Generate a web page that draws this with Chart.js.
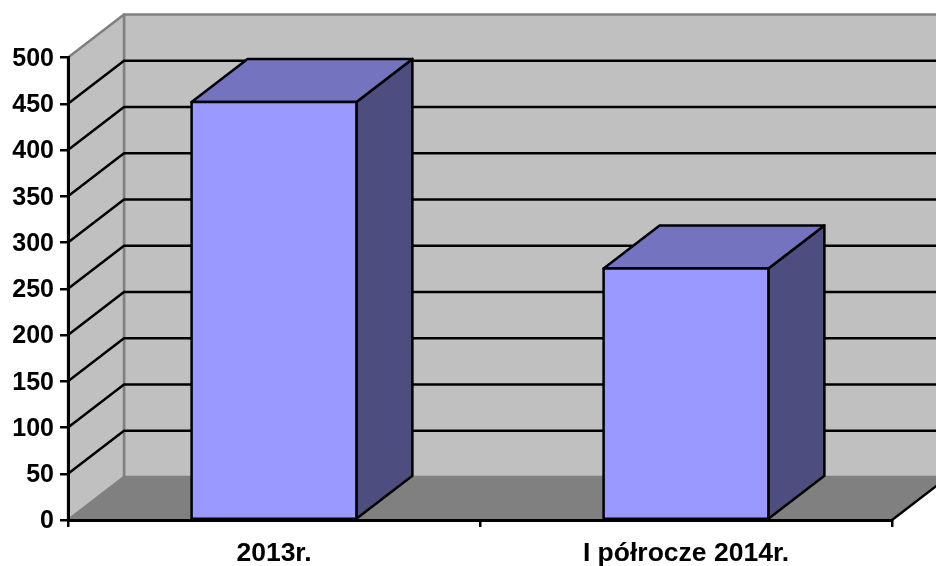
<!DOCTYPE html>
<html lang="pl">
<head>
<meta charset="utf-8">
<title>Wykres</title>
<style>
  html, body { margin: 0; padding: 0; background: #fff; }
  canvas { display: block; }
</style>
<script src="https://cdn.jsdelivr.net/npm/chart.js@4.5.0/dist/chart.umd.js"></script>
</head>
<body>
<canvas id="chart" width="936" height="566"></canvas>
<script>
const kategorie = ['2013r.', 'I półrocze 2014r.'];
const wartosci = [452, 272];

// przesuniecie tylnej sciany (efekt 3D)
const glebX = 56;
const glebY = -43;

const wielokat = (ctx, punkty, wypelnienie, obrys, grubosc) => {
  ctx.beginPath();
  punkty.forEach(([x, y], i) => (i ? ctx.lineTo(x, y) : ctx.moveTo(x, y)));
  ctx.closePath();
  if (wypelnienie) {
    ctx.fillStyle = wypelnienie;
    ctx.fill();
  }
  if (obrys) {
    ctx.strokeStyle = obrys;
    ctx.lineWidth = grubosc;
    ctx.lineJoin = 'round';
    ctx.stroke();
  }
};

const sciany3d = {
  id: 'sciany3d',
  beforeDraw(chart) {
    const { ctx, chartArea: a, scales: { y } } = chart;
    const x0 = a.left, x1 = a.right, gora = a.top, dol = a.bottom;
    ctx.save();

    // tylna sciana, lewa sciana, podloga
    wielokat(ctx, [[x0 + glebX, gora + glebY], [x1 + glebX, gora + glebY], [x1 + glebX, dol + glebY], [x0 + glebX, dol + glebY]], '#c0c0c0', '#808080', 2.5);
    wielokat(ctx, [[x0, gora], [x0 + glebX, gora + glebY], [x0 + glebX, dol + glebY], [x0, dol]], '#c0c0c0', '#808080', 2.5);
    wielokat(ctx, [[x0, dol], [x1, dol], [x1 + glebX, dol + glebY], [x0 + glebX, dol + glebY]], '#808080', null);

    // linie siatki na scianach
    ctx.strokeStyle = '#000';
    ctx.lineWidth = 2.5;
    y.ticks.forEach(t => {
      if (t.value === 0 || t.value === y.max) return;
      const py = y.getPixelForValue(t.value);
      ctx.beginPath();
      ctx.moveTo(x0, py);
      ctx.lineTo(x0 + glebX, py + glebY);
      ctx.lineTo(x1 + glebX, py + glebY);
      ctx.stroke();
    });

    // przednia krawedz podlogi
    ctx.beginPath();
    ctx.moveTo(x1, dol);
    ctx.lineTo(x1 + glebX, dol + glebY);
    ctx.stroke();
    ctx.restore();
  },
  beforeDatasetsDraw(chart) {
    const { ctx } = chart;
    ctx.save();
    chart.getDatasetMeta(0).data.forEach(el => {
      const l = el.x - el.width / 2;
      const r = el.x + el.width / 2;
      const t = el.y;
      const b = el.base;
      wielokat(ctx, [[r, t], [r + glebX, t + glebY], [r + glebX, b + glebY], [r, b]], '#4d4d80', '#000', 2.5);
      wielokat(ctx, [[l, t], [l + glebX, t + glebY], [r + glebX, t + glebY], [r, t]], '#7373bf', '#000', 2.5);
    });
    ctx.restore();
  },
  afterDatasetsDraw(chart) {
    // pelny obrys przedniej sciany slupka
    const { ctx } = chart;
    ctx.save();
    chart.getDatasetMeta(0).data.forEach(el => {
      const l = el.x - el.width / 2;
      const r = el.x + el.width / 2;
      wielokat(ctx, [[l, el.y], [r, el.y], [r, el.base], [l, el.base]], null, '#000', 2.5);
    });
    ctx.restore();
  }
};

new Chart(document.getElementById('chart'), {
  type: 'bar',
  plugins: [sciany3d],
  data: {
    labels: kategorie,
    datasets: [{
      data: wartosci,
      backgroundColor: '#9999ff',
      barPercentage: 0.4,
      categoryPercentage: 1
    }]
  },
  options: {
    responsive: false,
    animation: false,
    layout: { padding: { top: 57.5, right: 44, left: 0, bottom: 0 } },
    plugins: { legend: { display: false }, tooltip: { enabled: false } },
    scales: {
      x: {
        afterFit: s => { s.height = 46; },
        grid: { drawOnChartArea: false, color: '#000', lineWidth: 2.5, tickLength: 7 },
        border: { color: '#000', width: 3 },
        ticks: { color: '#000', padding: 11, maxRotation: 0, font: { family: 'Liberation Sans', size: 26.5, weight: 'bold' } }
      },
      y: {
        min: 0,
        max: 500,
        afterFit: s => { s.width = 68; },
        grid: { drawOnChartArea: false, color: '#000', lineWidth: 2.5, tickLength: 8 },
        border: { color: '#000', width: 3 },
        ticks: { stepSize: 50, color: '#000', padding: 6, labelOffset: 1.5, font: { family: 'Liberation Sans', size: 25, weight: 'bold' } }
      }
    }
  }
});
</script>
</body>
</html>
